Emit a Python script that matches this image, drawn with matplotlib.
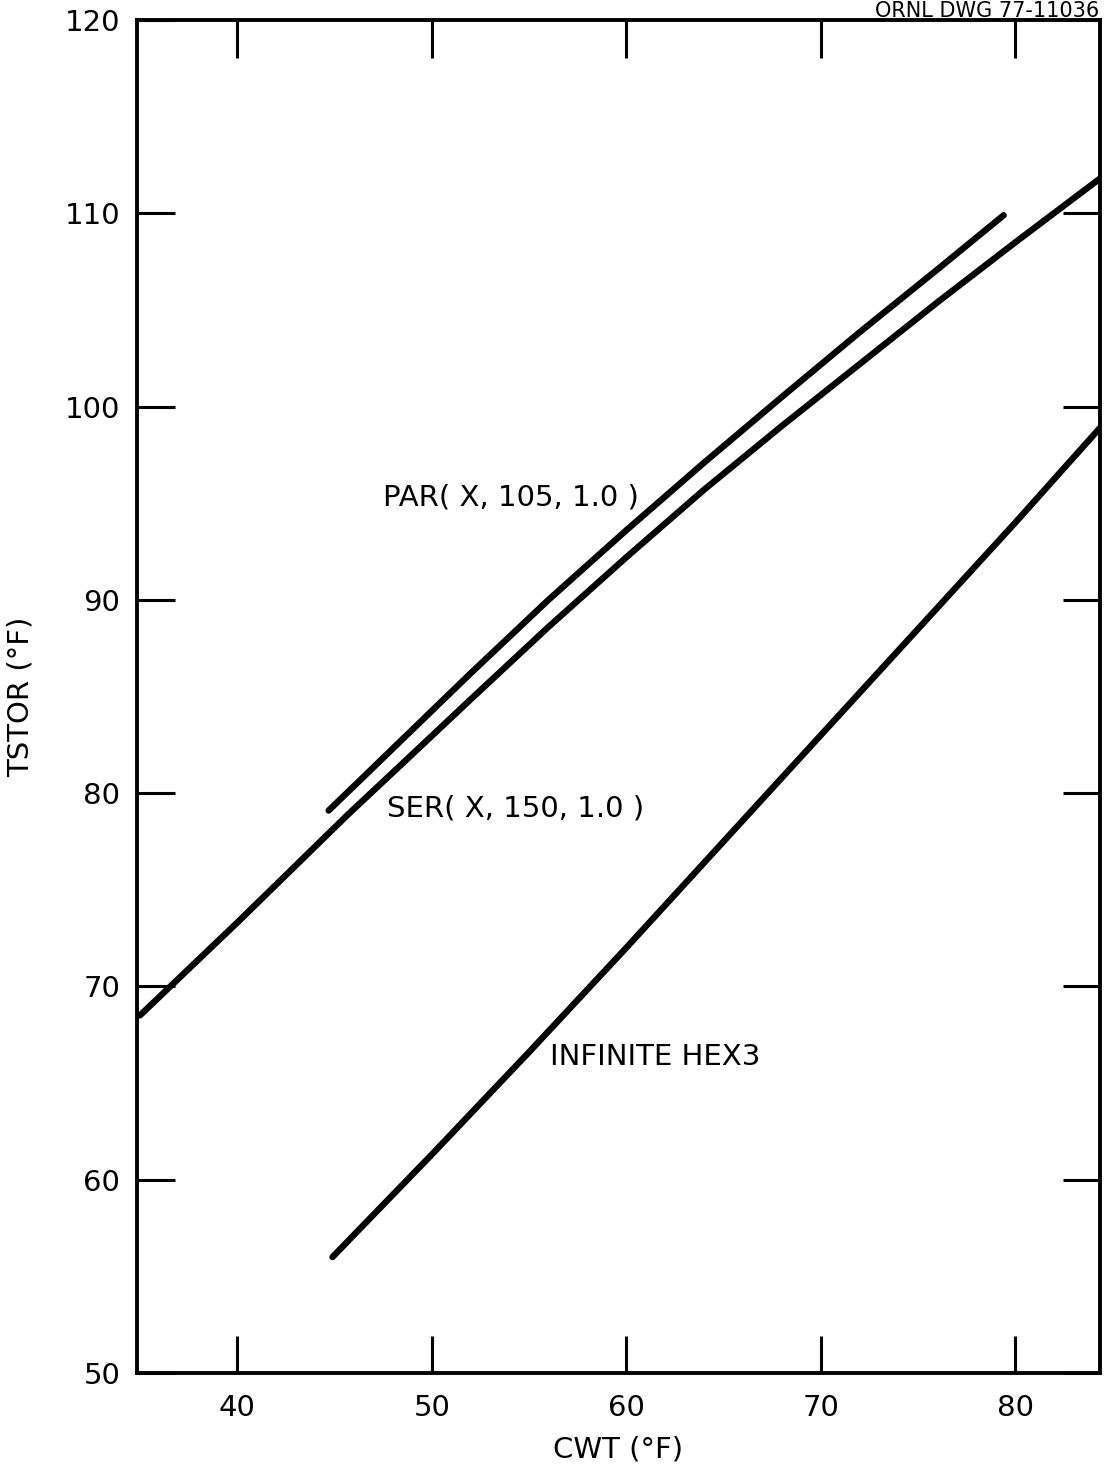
import matplotlib
matplotlib.use("Agg")
import matplotlib.pyplot as plt

# curves (CWT in degF, TSTOR in degF)
par_x = [44.7, 46.4, 48.3, 52.0, 56.0, 60.0, 64.0, 68.0, 72.0, 76.0, 79.4]
par_y = [79.1, 80.75, 82.6, 86.2, 90.0, 93.6, 97.1, 100.5, 103.85, 107.1, 109.9]

ser_x = [35.0, 40.0, 45.7, 48.3, 52.0, 56.0, 60.0, 64.0, 68.0, 72.0, 76.0, 80.0, 84.35]
ser_y = [68.5, 73.3, 78.9, 81.35, 84.85, 88.6, 92.2, 95.7, 99.0, 102.2, 105.4, 108.5, 111.8]

hex_x = [44.9, 50.0, 55.0, 60.0, 65.0, 70.0, 75.0, 80.0, 84.35]
hex_y = [56.0, 61.3, 66.6, 72.0, 77.5, 83.0, 88.5, 94.0, 98.9]

xticks = [40, 50, 60, 70, 80]
yticks = [50, 60, 70, 80, 90, 100, 110, 120]

plt.rcParams['font.family'] = ['DejaVu Sans']

fig = plt.figure(figsize=(11.05, 14.72), dpi=100)
ax = fig.add_axes([137 / 1105, 1 - 1373 / 1472, 963 / 1105, 1353 / 1472])

lw = 4.6
for xs, ys in [(par_x, par_y), (ser_x, ser_y), (hex_x, hex_y)]:
    ax.plot(xs, ys, color='black', lw=lw, solid_capstyle='round',
            solid_joinstyle='round')

ax.set_xlim(34.85, 84.35)
ax.set_ylim(50, 120)
ax.set_xticks(xticks)
ax.set_yticks(yticks)
ax.tick_params(direction='in', length=27, width=2.2, labelsize=21,
               top=True, right=True, pad=15)
ax.tick_params(axis='y', pad=12)
for s in ax.spines.values():
    s.set_linewidth(2.8)

ax.set_xlabel('CWT (°F)', fontsize=21, labelpad=10)
ax.set_ylabel('TSTOR (°F)', fontsize=21, labelpad=22)

ax.text(47.5, 95.3, 'PAR( X, 105, 1.0 )', fontsize=21, va='center', ha='left')
ax.text(47.7, 79.2, 'SER( X, 150, 1.0 )', fontsize=21, va='center', ha='left')
ax.text(56.1, 66.35, 'INFINITE HEX3', fontsize=21, va='center', ha='left')

fig.text(0.995, 0.999, 'ORNL DWG 77-11036', fontsize=15, ha='right', va='top')

fig.savefig('out.png', dpi=100)
